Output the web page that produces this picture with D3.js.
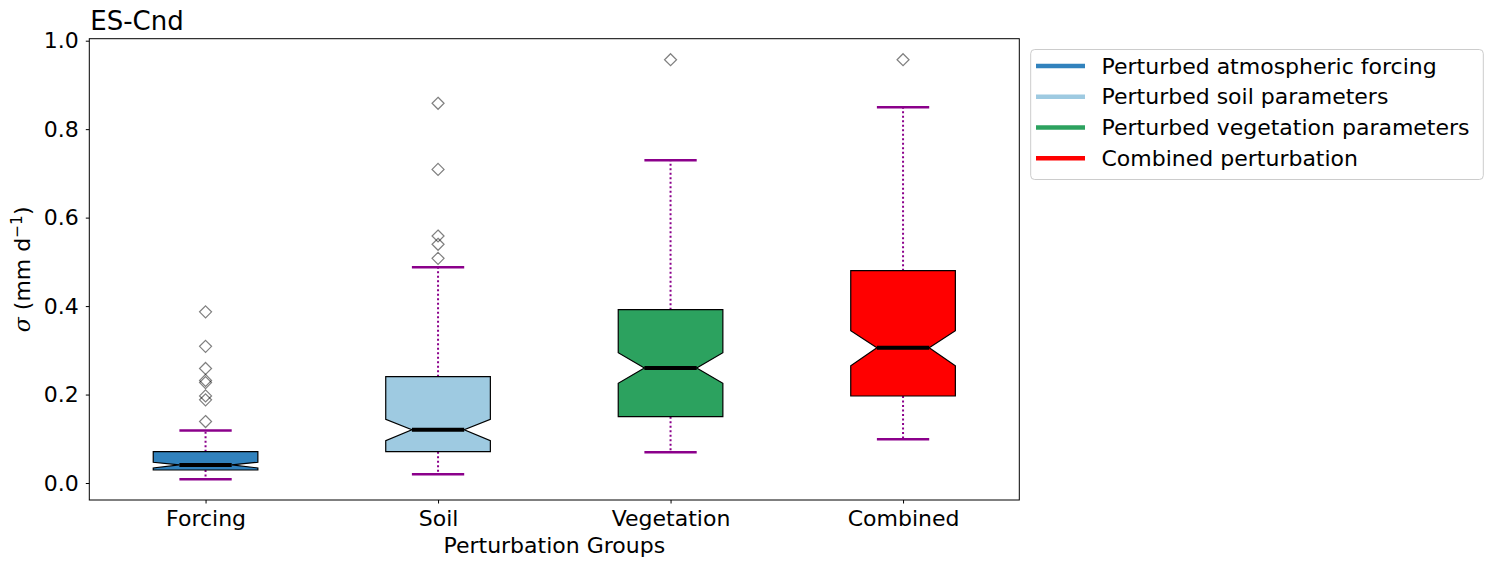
<!DOCTYPE html>
<html>
<head>
<meta charset="utf-8">
<script src="https://cdn.jsdelivr.net/npm/d3@7"></script>
<style>
  html, body { margin: 0; padding: 0; background: #fff; }
  svg { display: block; font-family: "DejaVu Sans", sans-serif; }
</style>
</head>
<body>
<svg id="chart" width="1492" height="565"></svg>
<script>
// ---- Data ----
const categories = ["Forcing", "Soil", "Vegetation", "Combined"];
const legendLabels = ["Perturbed atmospheric forcing", "Perturbed soil parameters", "Perturbed vegetation parameters", "Combined perturbation"];
const colors = ["#3182bd", "#9ecae1", "#2ca25f", "#ff0000"];
const q1 = [0.0294, 0.0708, 0.150, 0.1967];
const median = [0.041, 0.1205, 0.260, 0.306];
const q3 = [0.0708, 0.2403, 0.3918, 0.480];
const notchLow = [0.034, 0.0956, 0.2254, 0.2652];
const notchHigh = [0.047, 0.144, 0.2946, 0.3443];
const whiskerLow = [0.0084, 0.0197, 0.0694, 0.0988];
const whiskerHigh = [0.119, 0.4877, 0.7296, 0.8494];
const outliers = [
  [0.387, 0.309, 0.259, 0.232, 0.227, 0.197, 0.188, 0.139],
  [0.8585, 0.709, 0.5585, 0.5397, 0.508],
  [0.957],
  [0.957]
];
const yTicks = [0.0, 0.2, 0.4, 0.6, 0.8, 1.0];

// ---- Layout ----
const svg = d3.select("#chart");
const L = 89.3, R = 1019.3, T = 38.7, B = 500;
const x = d3.scaleLinear().domain([0.5, 4.5]).range([L, R]);
const y = d3.scaleLinear().domain([-0.0384, 1.0045]).range([B, T]);
const fs = 22;

const boxHalf = 0.225, notchHalf = 0.1125, capHalf = 0.1125;

const g = svg.append("g");

// whiskers
categories.forEach((c, i) => {
  const p = i + 1;
  [[q3[i], whiskerHigh[i]], [q1[i], whiskerLow[i]]].forEach(([a, b]) => {
    g.append("line")
      .attr("x1", x(p)).attr("x2", x(p))
      .attr("y1", y(a)).attr("y2", y(b))
      .attr("stroke", "#8b008b").attr("stroke-width", 2)
      .attr("stroke-dasharray", "2,2.5");
  });
  [whiskerHigh[i], whiskerLow[i]].forEach(v => {
    g.append("line")
      .attr("x1", x(p - capHalf)).attr("x2", x(p + capHalf))
      .attr("y1", y(v)).attr("y2", y(v))
      .attr("stroke", "#8b008b").attr("stroke-width", 2.5);
  });
});

// notched boxes
categories.forEach((c, i) => {
  const p = i + 1;
  const pts = [
    [p - boxHalf, q1[i]], [p + boxHalf, q1[i]], [p + boxHalf, notchLow[i]],
    [p + notchHalf, median[i]], [p + boxHalf, notchHigh[i]], [p + boxHalf, q3[i]],
    [p - boxHalf, q3[i]], [p - boxHalf, notchHigh[i]], [p - notchHalf, median[i]],
    [p - boxHalf, notchLow[i]], [p - boxHalf, q1[i]]
  ];
  const line = d3.line().x(d => x(d[0])).y(d => y(d[1]));
  g.append("path")
    .attr("d", line(pts) + "Z")
    .attr("fill", colors[i]).attr("stroke", "#000").attr("stroke-width", 1.2)
    .attr("stroke-linejoin", "miter");
  g.append("line")
    .attr("x1", x(p - notchHalf)).attr("x2", x(p + notchHalf))
    .attr("y1", y(median[i])).attr("y2", y(median[i]))
    .attr("stroke", "#000").attr("stroke-width", 4);
});

// outliers (diamonds)
const dsz = 6;
categories.forEach((c, i) => {
  const p = i + 1;
  outliers[i].forEach(v => {
    const cx = x(p), cy = y(v);
    g.append("path")
      .attr("d", `M${cx},${cy - dsz}L${cx + dsz},${cy}L${cx},${cy + dsz}L${cx - dsz},${cy}Z`)
      .attr("fill", "none").attr("stroke", "#000").attr("stroke-opacity", 0.5)
      .attr("stroke-width", 1.2);
  });
});

// frame
svg.append("rect").attr("x", L).attr("y", T).attr("width", R - L).attr("height", B - T)
  .attr("fill", "none").attr("stroke", "#000").attr("stroke-width", 1);

// y axis
const yAxis = svg.append("g").attr("transform", `translate(${L},0)`)
  .call(d3.axisLeft(y).tickValues(yTicks).tickFormat(d3.format(".1f")).tickSize(3.5).tickPadding(7));
yAxis.select(".domain").remove();
yAxis.selectAll("text").attr("font-size", fs).attr("font-family", "DejaVu Sans").attr("fill", "#000");
yAxis.selectAll("line").attr("stroke", "#000");

// x axis
const xAxis = svg.append("g").attr("transform", `translate(0,${B})`)
  .call(d3.axisBottom(x).tickValues([1, 2, 3, 4]).tickFormat(d => categories[d - 1]).tickSize(3.5).tickPadding(7));
xAxis.select(".domain").remove();
xAxis.selectAll("text").attr("font-size", fs).attr("font-family", "DejaVu Sans").attr("fill", "#000");
xAxis.selectAll("line").attr("stroke", "#000");

// axis labels
svg.append("text").attr("x", (L + R) / 2).attr("y", 553).attr("text-anchor", "middle")
  .attr("font-size", fs).text("Perturbation Groups");
const yl = svg.append("text").attr("transform", `translate(30,${(T + B) / 2}) rotate(-90)`)
  .attr("text-anchor", "middle").attr("font-size", fs);
yl.append("tspan").attr("font-style", "italic").attr("font-family", "DejaVu Serif").text("σ");
yl.append("tspan").text(" (mm d");
yl.append("tspan").attr("font-size", fs * 0.7).attr("dy", -8).text("−1");
yl.append("tspan").attr("dy", 8).text(")");

// title
svg.append("text").attr("x", L + 1).attr("y", 29.5).attr("font-size", 26).text("ES-Cnd");

// legend
const lg = svg.append("g");
lg.append("rect").attr("x", 1030.7).attr("y", 49.5).attr("width", 452.6).attr("height", 130)
  .attr("rx", 4).attr("fill", "#fff").attr("fill-opacity", 0.8).attr("stroke", "#ccc").attr("stroke-width", 1);
legendLabels.forEach((t, i) => {
  const cy = 66 + i * 30.75;
  lg.append("line").attr("x1", 1036).attr("x2", 1085).attr("y1", cy).attr("y2", cy)
    .attr("stroke", colors[i]).attr("stroke-width", 4.5);
  lg.append("text").attr("x", 1101.5).attr("y", cy).attr("dy", "0.35em").attr("font-size", fs).text(t);
});
</script>
</body>
</html>
